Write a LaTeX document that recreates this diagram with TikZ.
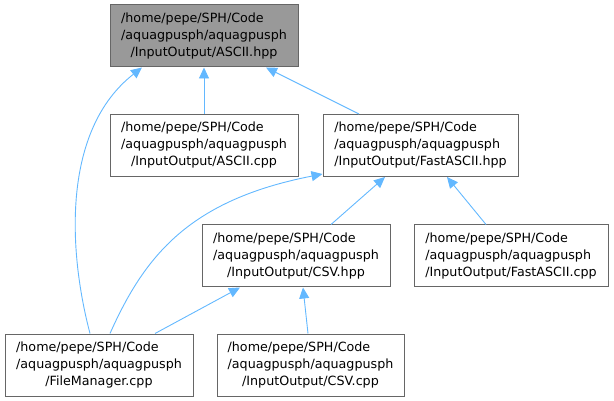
\documentclass[tikz,border=0pt]{standalone}
\usepackage{fontspec}
\setmainfont{DejaVu Sans}
\usepackage{tikz}
\usetikzlibrary{arrows.meta, positioning}
\usepackage{xcolor}
\definecolor{edgeblue}{HTML}{63B8FF}
\definecolor{boxgray}{HTML}{666666}
\definecolor{rootgray}{HTML}{999999}
\def\pathhead{/home/pepe/SPH/Code\\/aquagpusph/aquagpusph}
\newcommand{\inclabel}[1]{\begin{tabular}{@{}l@{}}\pathhead\\\multicolumn{1}{@{}c@{}}{#1}\end{tabular}}
\tikzset{
    filebox/.style = {draw = boxgray, line width = 1pt, fill = white, minimum height = 62pt, inner sep = 0pt, font = \fontsize{12.7}{17}\selectfont},
    rootbox/.style = {filebox, fill = rootgray},
    incedge/.style = {draw = edgeblue, line width = 0.9pt, -{Triangle[length = 11pt, width = 10pt]}}
}
\begin{document}
\begin{tikzpicture}[x = 1pt, y = -1pt]
    \useasboundingbox (0,0) rectangle (614,401);
    % File incluso
    \node[rootbox, minimum width = 188pt] (asciihpp) at (204,36){\inclabel{/InputOutput/ASCII.hpp}};
    % Primo livello
    \node[filebox, minimum width = 188pt] (asciicpp) at (204,145.5){\inclabel{/InputOutput/ASCII.cpp}};
    \node[filebox, minimum width = 195pt] (fasthpp) at (420.5,145.5){\inclabel{/InputOutput/FastASCII.hpp}};
    % Secondo livello
    \node[filebox, minimum width = 188pt] (csvhpp) at (296,256){\inclabel{/InputOutput/CSV.hpp}};
    \node[filebox, minimum width = 194pt] (fastcpp) at (511,256){\inclabel{/InputOutput/FastASCII.cpp}};
    % Terzo livello
    \node[filebox, minimum width = 188pt] (filemgr) at (99,365){\inclabel{/FileManager.cpp}};
    \node[filebox, minimum width = 187pt] (csvcpp) at (310.5,365){\inclabel{/InputOutput/CSV.cpp}};
    % Archi verso ASCII.hpp
    \draw[incedge] (asciicpp.north) -- (asciihpp.south);
    \draw[incedge] ([xshift = -61.5pt]fasthpp.north) -- ([xshift = 62pt]asciihpp.south);
    \draw[incedge] ([xshift = -9pt]filemgr.north) .. controls (68,250) and (62,130) .. ([xshift = -62pt]asciihpp.south);
    % Archi verso FastASCII.hpp
    \draw[incedge] ([xshift = 11pt]filemgr.north) .. controls (145,255) and (190,200) .. ([yshift = 3pt]fasthpp.south west);
    \draw[incedge] ([xshift = 35pt]csvhpp.north) -- ([xshift = -35.5pt]fasthpp.south);
    \draw[incedge] ([xshift = -25pt]fastcpp.north) -- ([xshift = 26.5pt]fasthpp.south);
    % Archi verso CSV.hpp
    \draw[incedge] ([xshift = 56pt]filemgr.north) -- ([xshift = -56pt]csvhpp.south);
    \draw[incedge] ([xshift = -2.5pt]csvcpp.north) -- ([xshift = 7pt]csvhpp.south);
\end{tikzpicture}
\end{document}
